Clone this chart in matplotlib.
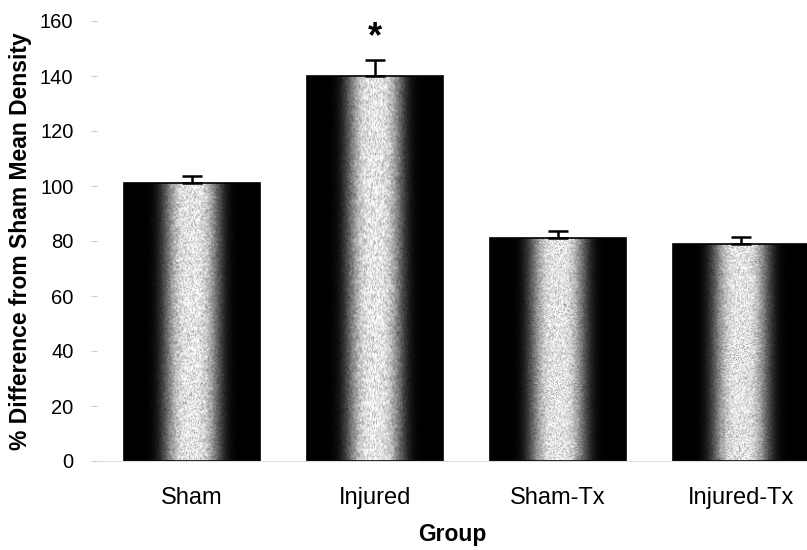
import numpy as np
import matplotlib.pyplot as plt

groups = ['Sham', 'Injured', 'Sham-Tx', 'Injured-Tx']
means = [101, 140, 81, 79]
errs = [2.5, 6, 2.5, 2.5]
yticks = [0, 20, 40, 60, 80, 100, 120, 140, 160]

plt.rcParams['font.family'] = ['Liberation Sans', 'DejaVu Sans']

fig = plt.figure(figsize=(8.07, 5.5), dpi=100)
ax = fig.add_axes([97/807, 89/550, 710/807, 440/550])

x = np.arange(len(groups))
bars = ax.bar(x, means, width=0.74, color='none', edgecolor='black', linewidth=1.2, zorder=2)
ax.errorbar(x, means, yerr=[np.zeros(len(errs)), errs], fmt='none', ecolor='black',
            elinewidth=1.8, capsize=7, capthick=1.8, zorder=3)

# bar shading: dark edges, light noisy centre
rng = np.random.default_rng(3)
u = np.linspace(0, 1, 140)
prof = np.exp(-(np.abs(u - 0.5) / 0.2) ** 3) * 0.9
for b in bars:
    img = np.tile(prof, (220, 1)) + rng.normal(0, 0.13, (220, 140)) * prof
    img = np.clip(img, 0, 1)
    im = ax.imshow(img, cmap='gray', vmin=0, vmax=1, aspect='auto',
                   extent=[b.get_x(), b.get_x() + b.get_width(), 0, b.get_height()],
                   zorder=1, interpolation='bilinear')
    im.set_clip_path(b)

ax.text(x[1], means[1] + errs[1] + 8, '*', ha='center', va='center', fontsize=26, fontweight='bold')

ax.set_xlim(-0.52, 3.36)
ax.set_ylim(0, 160)
ax.set_yticks(yticks)
ax.set_xticks(x)
ax.set_xticklabels(groups, fontsize=17)
ax.tick_params(axis='y', labelsize=14.5, color='#cccccc', length=4, pad=13)
ax.tick_params(axis='x', length=0, pad=19)
for s in ['top', 'right', 'left']:
    ax.spines[s].set_visible(False)
ax.spines['bottom'].set_color('#dddddd')

ax.set_ylabel('% Difference from Sham Mean Density', fontsize=16.5, fontweight='bold', labelpad=6)
ax.set_xlabel('Group', fontsize=16.5, fontweight='bold', labelpad=10)

plt.savefig('out.png', dpi=100)
